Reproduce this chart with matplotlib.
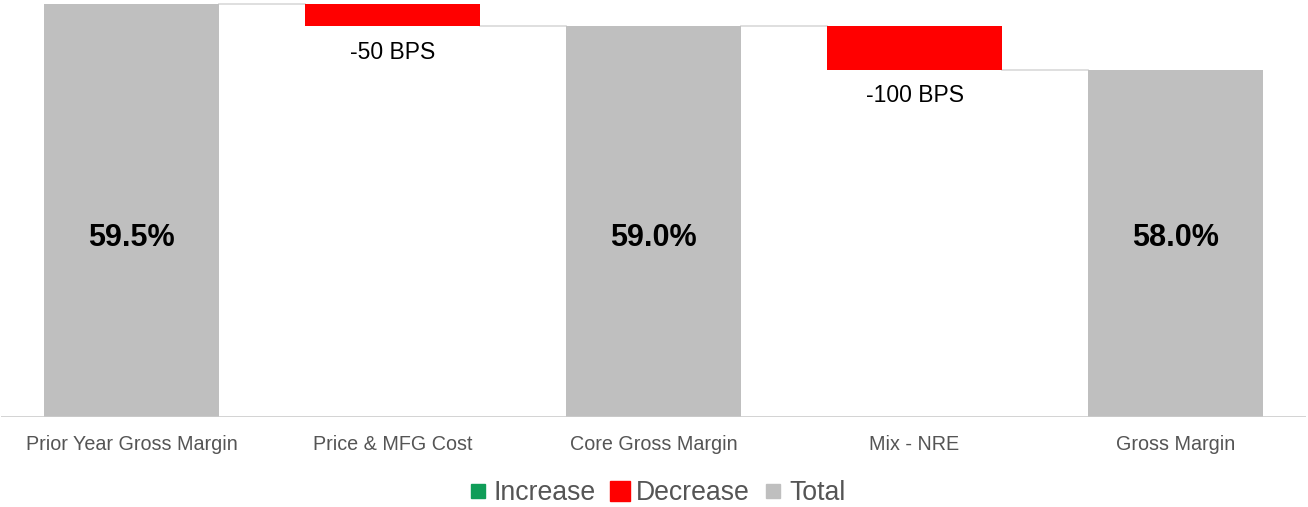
import matplotlib
matplotlib.use("Agg")
import matplotlib.pyplot as plt
from matplotlib.lines import Line2D

plt.rcParams['font.family'] = ['Liberation Sans', 'DejaVu Sans']

categories = ["Prior Year Gross Margin", "Price & MFG Cost", "Core Gross Margin", "Mix - NRE", "Gross Margin"]
kinds = ["total", "decrease", "total", "decrease", "total"]
values = [59.5, -0.5, 59.0, -1.0, 58.0]
legend_labels = ["Increase", "Decrease", "Total"]

C_INC = "#0f9d58"
C_DEC = "#ff0000"
C_TOT = "#bfbfbf"

fig = plt.figure(figsize=(13.08, 5.07), dpi=100)
ax = fig.add_axes([1/1308, 90/507, 1305/1308, 417/507])
ymin, ymax = 50.0, 59.6
ax.set_ylim(ymin, ymax)
ax.set_xlim(-0.5, len(categories) - 0.5)

width = 0.67
running = None
tops = []
for i, (k, v) in enumerate(zip(kinds, values)):
    if k == "total":
        ax.bar(i, v - ymin, bottom=ymin, width=width, color=C_TOT, zorder=2)
        ax.text(i, ymin + 4.12, f"{v:.1f}%", ha="center", va="center",
                fontsize=22, fontweight="bold", color="black", zorder=3)
        running = v
    else:
        new = running + v
        color = C_DEC if v < 0 else C_INC
        lo, hi = min(running, new), max(running, new)
        ax.bar(i, hi - lo, bottom=lo, width=width, color=color, zorder=2)
        ax.annotate(f"{v*100:+.0f} BPS".replace("+", ""), xy=(i, lo), xytext=(0, -19),
                    textcoords="offset points", ha="center", va="center",
                    fontsize=16.5, color="black")
        running = new
    tops.append(running)

# connectors
for i in range(len(categories) - 1):
    ax.plot([i + width / 2, i + 1 - width / 2], [tops[i], tops[i]],
            color="#d9d9d9", lw=1.2, zorder=1)

ax.axhline(ymin, color="#cccccc", lw=1.2, zorder=3)
for s in ax.spines.values():
    s.set_visible(False)
ax.set_yticks([])
ax.set_xticks(range(len(categories)))
ax.set_xticklabels(categories, fontsize=14.2, color="#555555")
ax.tick_params(axis="x", length=0, pad=13)

handles = [
    Line2D([], [], marker="s", linestyle="", markersize=10, color=C_INC),
    Line2D([], [], marker="s", linestyle="", markersize=14, color=C_DEC),
    Line2D([], [], marker="s", linestyle="", markersize=10, color=C_TOT),
]
leg = fig.legend(handles, legend_labels, loc="center", bbox_to_anchor=(655/1308, 1 - 493/507),
                 ncol=3, frameon=False, fontsize=19.2, handletextpad=0.1, columnspacing=0.4,
                 handlelength=1.0)
for t in leg.get_texts():
    t.set_color("#555555")

fig.savefig("out.png", dpi=100)
